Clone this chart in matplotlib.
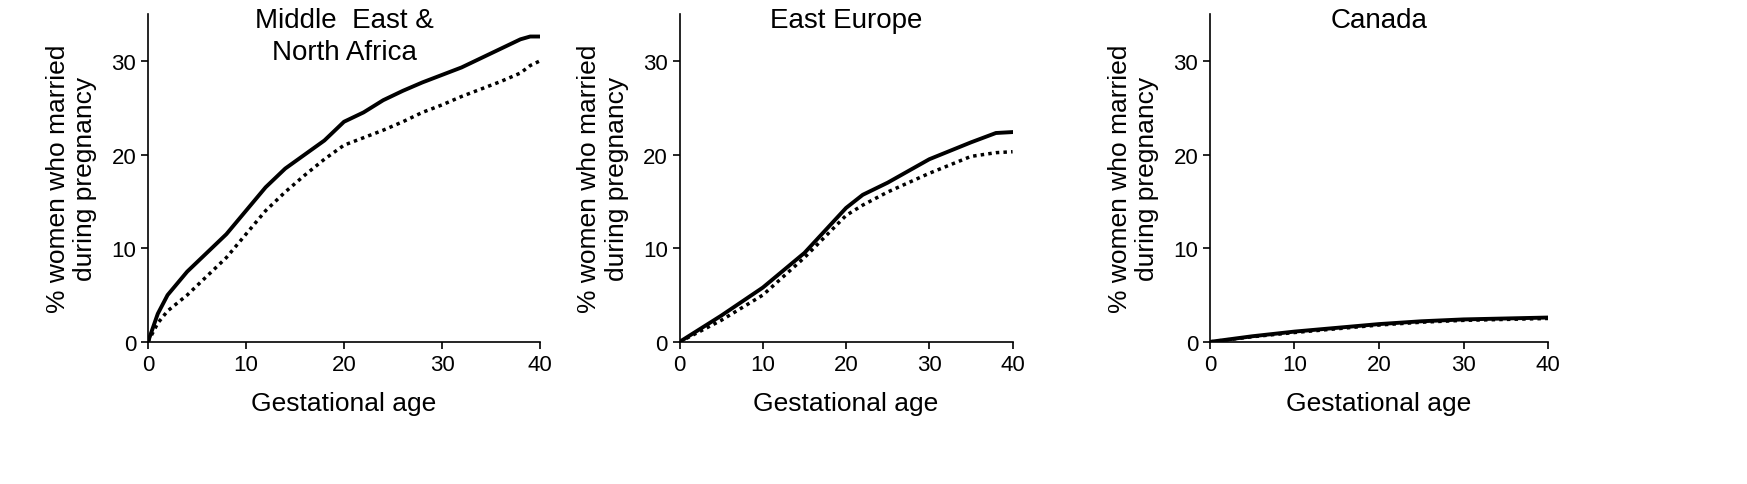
import matplotlib
matplotlib.use('Agg')
import matplotlib.pyplot as plt

plt.rcParams['font.family'] = ['Liberation Sans', 'DejaVu Sans']

titles = ['Middle  East &\nNorth Africa', 'East Europe', 'Canada']

# gestational age (weeks) and % married
mena_x = [0, 1, 2, 4, 6, 8, 10, 12, 14, 16, 18, 20, 22, 24, 26, 28, 30, 32, 34, 36, 38, 39, 40]
mena_solid = [0, 3, 5, 7.5, 9.5, 11.5, 14, 16.5, 18.5, 20, 21.5, 23.5, 24.5, 25.8, 26.8, 27.7, 28.5, 29.3, 30.3, 31.3, 32.3, 32.6, 32.6]
mena_dot = [0, 2, 3.3, 5, 7, 9, 11.5, 14, 16, 17.8, 19.5, 21, 21.8, 22.6, 23.5, 24.5, 25.3, 26.2, 27, 27.8, 28.7, 29.5, 30]

ee_x = [0, 5, 10, 15, 20, 22, 25, 30, 35, 38, 40]
ee_solid = [0, 2.8, 5.8, 9.5, 14.3, 15.7, 17, 19.5, 21.3, 22.3, 22.4]
ee_dot = [0, 2.3, 5, 9, 13.5, 14.6, 16, 18, 19.8, 20.2, 20.3]

ca_x = [0, 5, 10, 15, 20, 25, 30, 35, 40]
ca_solid = [0, 0.6, 1.1, 1.5, 1.9, 2.2, 2.4, 2.5, 2.6]
ca_dot = [0, 0.55, 1.0, 1.4, 1.8, 2.1, 2.3, 2.4, 2.5]

data = [(mena_x, mena_solid, mena_dot), (ee_x, ee_solid, ee_dot), (ca_x, ca_solid, ca_dot)]
lefts = [0.0847, 0.389, 0.6926]
widths = [0.2244, 0.1906, 0.1935]

fig = plt.figure(figsize=(17.47, 4.85), dpi=100)
for i in range(3):
    ax = fig.add_axes([lefts[i], 0.293, widths[i], 0.676])
    x, s, d = data[i]
    ax.plot(x, d, color='black', lw=2.5, ls=(0, (1, 1.2)))
    ax.plot(x, s, color='black', lw=2.8)
    ax.set_xlim(0, 40)
    ax.set_ylim(0, 35)
    ax.set_xticks([0, 10, 20, 30, 40])
    ax.set_yticks([0, 10, 20, 30])
    ax.tick_params(labelsize=16, length=5, width=1.2)
    for side in ['top', 'right']:
        ax.spines[side].set_visible(False)
    for side in ['left', 'bottom']:
        ax.spines[side].set_linewidth(1.2)
    ax.set_xlabel('Gestational age', fontsize=19, labelpad=12)
    ax.set_ylabel('% women who married\nduring pregnancy', fontsize=19, labelpad=10)
    ax.text(0.5, 1.02, titles[i], transform=ax.transAxes, ha='center', va='top',
            fontsize=20, linespacing=1.3)

fig.savefig('out.png', dpi=100)
